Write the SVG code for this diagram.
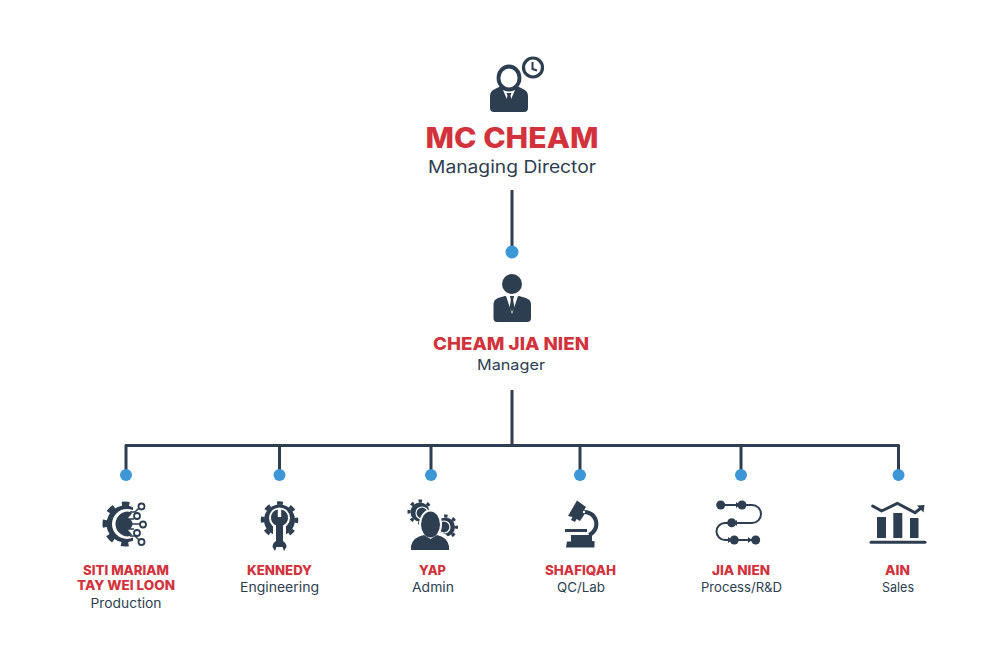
<svg xmlns="http://www.w3.org/2000/svg" width="1001" height="668" viewBox="0 0 1001 668">
<style>
text{font-family:Inter,"Noto Sans","Liberation Sans",sans-serif;text-anchor:middle}
.n{fill:#d2323c;font-weight:800;font-size:13px}
.r{fill:#2c3e50;font-weight:400;font-size:13px}
.d{fill:#2c3e50}
.w{fill:#fff}
.s{fill:none;stroke:#2c3e50;stroke-width:2}
.l{fill:none;stroke:#2c3e50;stroke-width:3}
.dot{fill:#3d96d6}
</style>
<rect width="1001" height="668" fill="#fff"/>
<g id="connectors">
<path class="l" d="M512 190V250M512 390V445M125 445.500H899.500M126 445V475M279.500 445V475M431 445V475M580 445V475M741 445V475M898.500 445V475"/>
<circle class="dot" cx="512" cy="252" r="6.500"/>
<circle class="dot" cx="126" cy="475" r="6"/>
<circle class="dot" cx="279.500" cy="475" r="6"/>
<circle class="dot" cx="431" cy="475" r="6"/>
<circle class="dot" cx="580" cy="475" r="6"/>
<circle class="dot" cx="741" cy="475" r="6"/>
<circle class="dot" cx="898.500" cy="475" r="6"/>
</g>
<g id="node-mc-cheam">
<path class="d" d="M490 108V96Q490 91 495 89L503 85H515L523 89Q528 91 528 96V108Q528 112 524 112H494Q490 112 490 108Z"/>
<path class="w" d="M503 90H515L509 104Z"/>
<path class="d" d="M506.500 93H511.500L510.500 95.500L512 103L509 106L506 103L507.500 95.500Z"/>
<ellipse cx="509" cy="78" rx="10.500" ry="11.500" fill="#fff" stroke="#2c3e50" stroke-width="3.800"/>
<circle cx="533" cy="67.500" r="9.500" fill="#fff" stroke="#2c3e50" stroke-width="3.200"/>
<path class="s" d="M532.500 62V69L537 70.500"/>
<text x="512" y="148" textLength="173" lengthAdjust="spacingAndGlyphs" style="fill:#d2323c;font-weight:800;font-size:28px">MC CHEAM</text>
<text x="512" y="173" textLength="168" lengthAdjust="spacingAndGlyphs" style="fill:#2c3e50;font-weight:400;font-size:17px">Managing Director</text>
</g>
<g id="node-cheam-jia-nien">
<circle class="d" cx="512" cy="284" r="10"/>
<path class="d" d="M493.500 318V304Q493.500 300 498 298L505 296H519L526 298Q531 300 531 304V318Q531 322 527 322H497Q493.500 322 493.500 318Z"/>
<path class="w" d="M506 296H518L512 314Z"/>
<path class="d" d="M510 296H514L513.200 300L514.500 308L512 312L509.500 308L510.800 300Z"/>
<text x="511" y="350" textLength="156" lengthAdjust="spacingAndGlyphs" style="fill:#d2323c;font-weight:800;font-size:18px">CHEAM JIA NIEN</text>
<text x="511" y="370" textLength="68" lengthAdjust="spacingAndGlyphs" style="fill:#2c3e50;font-weight:400;font-size:14.500px">Manager</text>
</g>
<g id="node-production">
<clipPath id="c1"><rect x="95" y="495" width="38.500" height="60"/></clipPath>
<g clip-path="url(#c1)">
<circle class="d" cx="125" cy="524" r="18.500"/>
<circle cx="125" cy="524" r="20" fill="none" stroke="#2c3e50" stroke-width="5" stroke-dasharray="7.500 8.210" stroke-dashoffset="3.750"/>
</g>
<circle cx="127" cy="524" r="15" class="w"/>
<path d="M133 505H135V543H133Z" class="w"/>
<path class="d" d="M128 511.500A12.500 12.500 0 0 0 128 536.500Q131 536 132 534.500L128 530V518L132 513.500Q131 512 128 511.500Z"/>
<circle class="d" cx="126" cy="524" r="6.500"/>
<path class="s" d="M126 524H140M129 519H134M129 529H134M130 512H135L139 508M130 536H135L139 540" style="stroke-width:1.500"/>
<circle cx="141.500" cy="506.500" r="3" fill="#fff" stroke="#2c3e50" stroke-width="1.800"/>
<circle cx="137" cy="516" r="3" fill="#fff" stroke="#2c3e50" stroke-width="1.800"/>
<circle cx="143" cy="524.500" r="3" fill="#fff" stroke="#2c3e50" stroke-width="1.800"/>
<circle cx="137" cy="533" r="3" fill="#fff" stroke="#2c3e50" stroke-width="1.800"/>
<circle cx="141.500" cy="542" r="3" fill="#fff" stroke="#2c3e50" stroke-width="1.800"/>
<text class="n" x="126" y="575" textLength="86" lengthAdjust="spacingAndGlyphs">SITI MARIAM</text>
<text class="n" x="126" y="590" textLength="98" lengthAdjust="spacingAndGlyphs">TAY WEI LOON</text>
<text class="r" x="126" y="608" textLength="71" lengthAdjust="spacingAndGlyphs">Production</text>
</g>
<g id="node-engineering">
<circle class="d" cx="279.500" cy="520" r="15.500"/>
<circle cx="279.500" cy="520" r="17" fill="none" stroke="#2c3e50" stroke-width="3.500" stroke-dasharray="6 7.350" stroke-dashoffset="3"/>
<circle cx="279.500" cy="518" r="10.500" class="w"/>
<path class="w" d="M273 520H286V542H273Z"/>
<path class="d" d="M277.800 509.500V517H281.200V509.500Q288 511 288 518Q288 523 283 525.500V541Q286.500 543 286.500 547L284 551L282.500 547H276.500L275 551L272.500 547Q272.500 543 276 541V525.500Q271 523 271 518Q271 511 277.800 509.500Z"/>
<text class="n" x="279.500" y="575" textLength="65" lengthAdjust="spacingAndGlyphs">KENNEDY</text>
<text class="r" x="279.500" y="592" textLength="79" lengthAdjust="spacingAndGlyphs">Engineering</text>
</g>
<g id="node-admin">
<circle cx="420" cy="512" r="9.500" class="d"/>
<circle cx="420" cy="512" r="11" fill="none" stroke="#2c3e50" stroke-width="3" stroke-dasharray="3.500 5.140" stroke-dashoffset="1.750"/>
<circle cx="445.500" cy="527" r="9.500" class="d"/>
<circle cx="445.500" cy="527" r="11" fill="none" stroke="#2c3e50" stroke-width="3" stroke-dasharray="3.500 5.140" stroke-dashoffset="1.750"/>
<circle cx="422" cy="513" r="6" fill="none" stroke="#fff" stroke-width="1.200"/>
<circle cx="444" cy="527" r="6" fill="none" stroke="#fff" stroke-width="1.200"/>
<ellipse cx="430.500" cy="524.500" rx="11.500" ry="15" class="w"/>
<path class="w" d="M408 552V545Q411 533 424 532H437Q450 533 452 545V552Z"/>
<path class="d" d="M411 550V546Q413 537 424 535L430.500 539L437 535Q447 537 449 546V550Z"/>
<ellipse cx="430.500" cy="524.500" rx="9.500" ry="13" class="d"/>
<text class="n" x="432.500" y="575" textLength="27" lengthAdjust="spacingAndGlyphs">YAP</text>
<text class="r" x="433" y="592" textLength="42" lengthAdjust="spacingAndGlyphs">Admin</text>
</g>
<g id="node-qc-lab">
<path class="l" d="M583 512A12 12 0 0 1 589 535" style="stroke-width:4"/>
<path class="d" d="M577 500.500L586 507L583 512L585 513.500L580 521L576.500 519L575 522L571 520L572.500 517L568 516Z"/>
<path class="d" d="M565 529H587V532H565Z"/>
<path class="d" d="M571 535H592V541H594.500V547.500H566L567 541.500H571Z"/>
<circle class="w" cx="584" cy="512" r="1.200"/>
<text class="n" x="580.500" y="575" textLength="71" lengthAdjust="spacingAndGlyphs">SHAFIQAH</text>
<text class="r" x="581" y="592" textLength="48" lengthAdjust="spacingAndGlyphs">QC/Lab</text>
</g>
<g id="node-process">
<path class="s" d="M721 505H738M742 505H752A9 9 0 0 1 752 523H736M732 523H725A8.500 8.500 0 0 0 725 540H730M734 540H752"/>
<path class="d" d="M736 502L740 505L736 508ZM737 520L733.500 523L737 526ZM728 537L732 540L728 543ZM748 537L752 540L748 543Z"/>
<circle class="d" cx="720.700" cy="505" r="4.500"/>
<circle class="d" cx="742" cy="505" r="4.500"/>
<circle class="d" cx="731.700" cy="522.700" r="4.500"/>
<circle class="d" cx="734.300" cy="540" r="4.500"/>
<circle class="d" cx="755.700" cy="540" r="4.500"/>
<text class="n" x="741" y="575" textLength="58" lengthAdjust="spacingAndGlyphs">JIA NIEN</text>
<text class="r" x="741.500" y="592" textLength="81" lengthAdjust="spacingAndGlyphs">Process/R&amp;D</text>
</g>
<g id="node-sales">
<rect class="d" x="877" y="517" width="9" height="21"/>
<rect class="d" x="893.300" y="513" width="9" height="25"/>
<rect class="d" x="910" y="518" width="8.500" height="20"/>
<path class="l" d="M871 542.300H925" stroke-linecap="round"/>
<path class="l" d="M872.700 506L881.700 511L897.300 503.300L915 512.700L921 508" stroke-linecap="round" stroke-linejoin="round"/>
<path class="d" d="M917 505.500L924.500 505L923.500 512.500Z"/>
<text class="n" x="897.500" y="575" textLength="25" lengthAdjust="spacingAndGlyphs">AIN</text>
<text class="r" x="898" y="592" textLength="32" lengthAdjust="spacingAndGlyphs">Sales</text>
</g>
</svg>
